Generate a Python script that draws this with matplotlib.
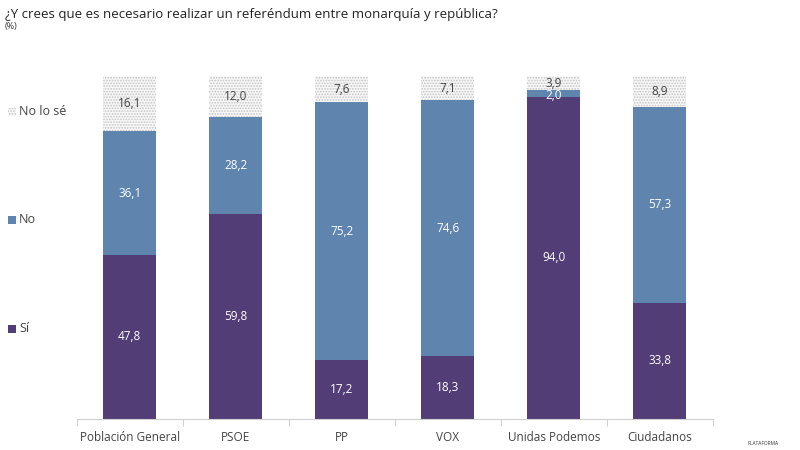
import matplotlib
matplotlib.use("Agg")
import matplotlib.pyplot as plt
from matplotlib.patches import Rectangle
import numpy as np

plt.rcParams['font.family'] = ['Open Sans', 'DejaVu Sans']
plt.rcParams['hatch.color'] = '#c4c4c4'
plt.rcParams['hatch.linewidth'] = 0.8

categories = ["Población General", "PSOE", "PP", "VOX", "Unidas Podemos", "Ciudadanos"]
si = [47.8, 59.8, 17.2, 18.3, 94.0, 33.8]
no = [36.1, 28.2, 75.2, 74.6, 2.0, 57.3]
nose = [16.1, 12.0, 7.6, 7.1, 3.9, 8.9]

c_si = '#533d76'
c_no = '#5f84ae'
txt = '#444444'

fig = plt.figure(figsize=(8, 4.5), dpi=100)
ax = fig.add_axes([0.096, 0.069, 0.795, 0.762])

x = np.arange(len(categories))
w = 0.5
si = np.array(si); no = np.array(no); nose = np.array(nose)
ax.bar(x, si, w, color=c_si, linewidth=0)
ax.bar(x, no, w, bottom=si, color=c_no, linewidth=0)
ax.bar(x, nose, w, bottom=si + no, color='#f7f7f7', edgecolor='#c4c4c4',
       hatch='......', linewidth=0)

def fmt(v):
    return f"{v:.1f}".replace('.', ',')

for i in range(len(x)):
    ax.text(x[i], si[i] / 2, fmt(si[i]), ha='center', va='center', color='white', fontsize=8.5)
    if no[i] < 5:
        ax.text(x[i], si[i] + no[i] + 0.3, fmt(no[i]), ha='center', va='top', color='white', fontsize=8.5)
    else:
        ax.text(x[i], si[i] + no[i] / 2, fmt(no[i]), ha='center', va='center', color='white', fontsize=8.5)
    ax.text(x[i], si[i] + no[i] + nose[i] / 2, fmt(nose[i]), ha='center', va='center', color=txt, fontsize=8.5)

ax.set_xlim(-0.5, len(x) - 0.5)
ax.set_ylim(0, 100)
ax.set_yticks([])
ax.set_xticks(x)
ax.set_xticklabels(categories, fontsize=8.5, color=txt)
ax.tick_params(axis='x', which='major', length=0, pad=9)
ax.set_xticks(np.arange(-0.5, len(x), 1), minor=True)
ax.tick_params(axis='x', which='minor', length=5, color='#d0d0d0', width=0.8)
for s in ['top', 'right', 'left']:
    ax.spines[s].set_visible(False)
ax.spines['bottom'].set_color('#d0d0d0')
ax.spines['bottom'].set_linewidth(0.8)

# title
fig.text(0.006, 0.968, "¿Y crees que es necesario realizar un referéndum entre monarquía y república?",
         fontsize=9.5, color='#222222', va='center')
fig.text(0.006, 0.942, "(%)", fontsize=6.5, color='#333333', va='center')

# legend on the left
leg = [("No lo sé", '#f7f7f7', '......', 0.755), ("No", c_no, None, 0.515), ("Sí", c_si, None, 0.272)]
for lab, col, h, yy in leg:
    fig.patches.append(Rectangle((0.01, yy - 0.012), 0.01, 0.018, transform=fig.transFigure,
                                 facecolor=col, edgecolor='#c4c4c4' if h else col, hatch=h, linewidth=0))
    fig.text(0.024, yy - 0.003, lab, fontsize=9, color=txt, va='center')

fig.text(0.935, 0.012, "PLATAFORMA", fontsize=3.5, color='#333333')

fig.savefig("out.png", dpi=100)
